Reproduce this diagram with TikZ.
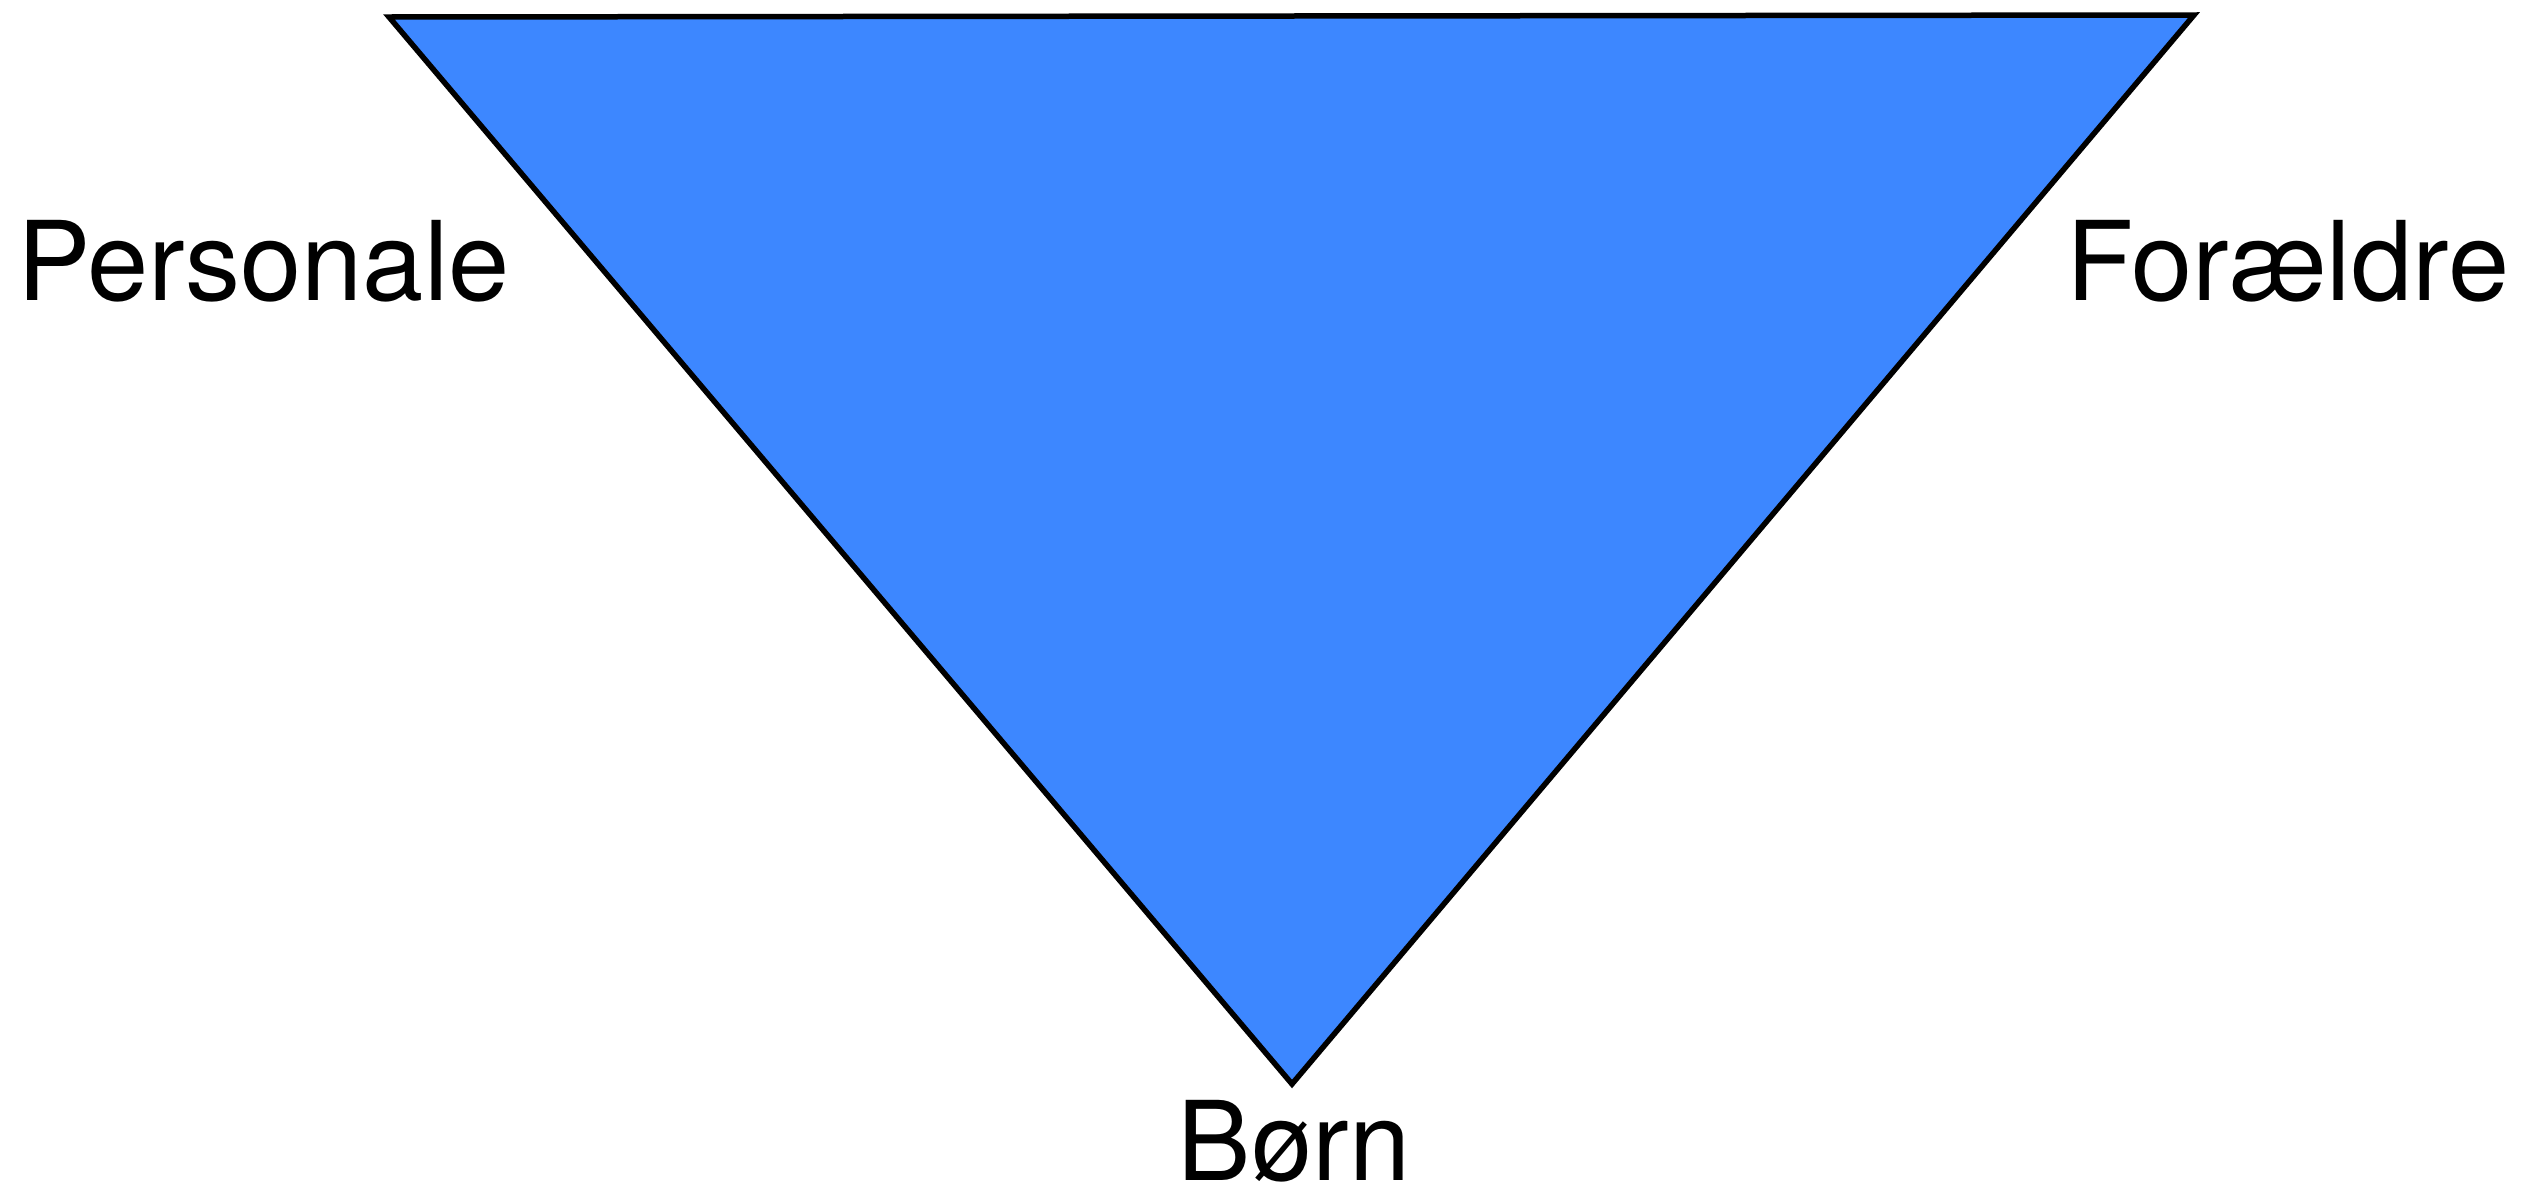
\documentclass[tikz,border=0pt]{standalone}
\usepackage{fontspec}
\setmainfont{TeX Gyre Heros}
\usetikzlibrary{positioning}
\definecolor{cTri}{HTML}{3D87FF}
\definecolor{cInk}{HTML}{000000}

\begin{document}
\begin{tikzpicture}[
  x=1pt,y=-1pt,
  tri/.style={draw=cInk,fill=cTri,line width=5.5pt,line join=miter},
  lbl/.style={font=\fontsize{110}{120}\selectfont,color=cInk,inner sep=0pt,text depth=0pt},
]
\useasboundingbox (0,0) rectangle (2527,1192);

% corners of the triangle
\coordinate (cPers) at (389,17);
\coordinate (cForae) at (2194,15);
\coordinate (cBorn) at (1292,1084);

\draw[tri] (cPers) -- (cForae) -- (cBorn) -- cycle;

% labels
\node[lbl,anchor=base west] (pers)  at (17,300)   {Personale};
\node[lbl,anchor=base west] (forae) at (2066,300) {Forældre};
\node[lbl,anchor=base]      (born)  at (1294,1180) {Børn};

\end{tikzpicture}
\end{document}
